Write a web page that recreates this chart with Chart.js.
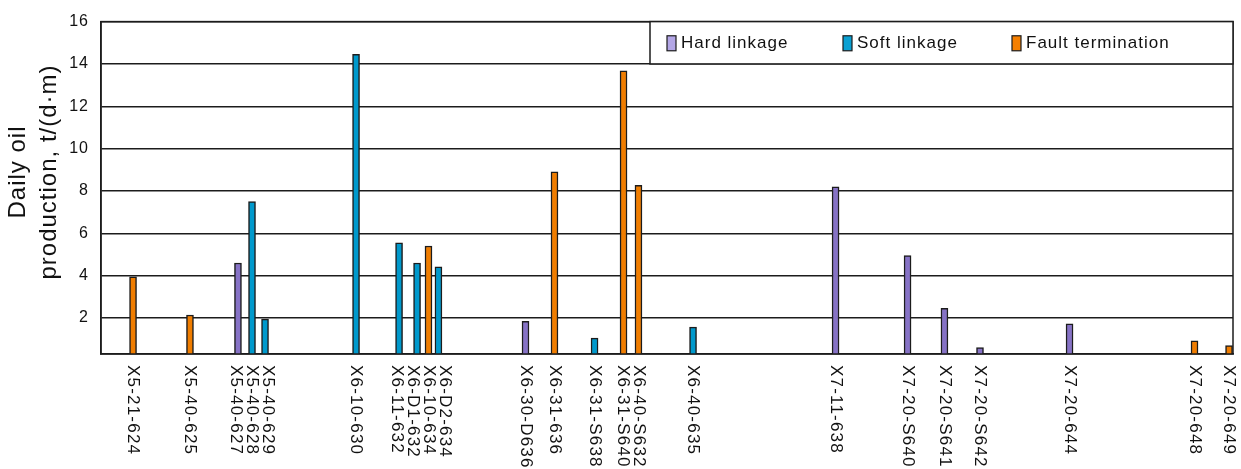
<!DOCTYPE html>
<html>
<head>
<meta charset="utf-8">
<script src="https://cdn.jsdelivr.net/npm/chart.js@4"></script>
<style>
  body { margin: 0; background: #fff; }
  #wrap { width: 1241px; height: 469px; position: relative; }
</style>
</head>
<body>
<div id="wrap"><canvas id="oilChart"></canvas></div>
<script>
// wells along the section, position along the section (0-100), daily oil, linkage type
const wells = ['X5-21-624', 'X5-40-625', 'X5-40-627', 'X5-40-628', 'X5-40-629', 'X6-10-630',
  'X6-11-632', 'X6-D1-632', 'X6-10-634', 'X6-D2-634', 'X6-30-D636', 'X6-31-636', 'X6-31-S638',
  'X6-31-S640', 'X6-40-S632', 'X6-40-635', 'X7-11-638', 'X7-20-S640', 'X7-20-S641', 'X7-20-S642',
  'X7-20-644', 'X7-20-648', 'X7-20-649'];
const wellPos = [2.83, 7.86, 12.1, 13.34, 14.49, 22.53, 26.33, 27.92, 28.93, 29.81, 37.5, 40.06,
  43.6, 46.16, 47.48, 52.3, 64.89, 71.25, 74.51, 77.65, 85.56, 96.6, 99.65];
const production = [3.95, 2.14, 4.6, 7.5, 1.95, 14.45, 5.55, 4.6, 5.4, 4.42, 1.84, 8.9, 1.05,
  13.68, 8.27, 1.57, 8.2, 4.95, 2.46, 0.6, 1.72, 0.92, 0.7];
const wellType = ['F', 'F', 'H', 'S', 'S', 'S', 'S', 'S', 'F', 'S', 'H', 'F', 'S', 'F', 'F', 'S',
  'H', 'H', 'H', 'H', 'H', 'F', 'F'];
const seriesKeys = ['H', 'S', 'F'];
const seriesNames = ['Hard linkage', 'Soft linkage', 'Fault termination'];
const yTicks = [2, 4, 6, 8, 10, 12, 14, 16];
const yTitle = ['Daily oil', 'production, t/(d\u00b7m)'];

const barColors = {H: '#8672C6', S: '#0099CC', F: '#F07D00'};
const swatchColors = {H: '#B3A6E6', S: '#0AA0D2', F: '#F57F00'};
const FONT = "'Liberation Sans', Arial, sans-serif";

function seriesData(key) {
  return wells.map((w, i) => wellType[i] === key ? {x: wellPos[i], y: production[i]} : null)
    .filter(Boolean);
}

// push crowded label positions apart so the vertical texts don't overlap
function spread(pos, gap) {
  for (let it = 0; it < 200; it++) {
    for (let i = 0; i < pos.length - 1; i++) {
      const d = pos[i + 1] - pos[i];
      if (d < gap) {
        pos[i] -= (gap - d) / 2;
        pos[i + 1] += (gap - d) / 2;
      }
    }
  }
  return pos;
}

const customDraw = {
  id: 'customDraw',
  beforeDraw(chart) {
    chart.ctx.letterSpacing = '1px';
  },
  afterDraw(chart) {
    const ctx = chart.ctx;
    const area = chart.chartArea;
    const xs = chart.scales.x;
    const ys = chart.scales.y;
    ctx.save();

    // frame
    ctx.strokeStyle = '#1c1c1c';
    ctx.lineWidth = 1.5;
    ctx.strokeRect(area.left, area.top, area.right - area.left, area.bottom - area.top);

    // legend box in the top band
    const lx = 650, ly = area.top, lb = ys.getPixelForValue(14);
    ctx.fillStyle = '#fff';
    ctx.fillRect(lx, ly, area.right - lx, lb - ly);
    ctx.strokeRect(lx, ly, area.right - lx, lb - ly);
    const itemX = [17, 193, 362];
    ctx.font = '17px ' + FONT;
    ctx.letterSpacing = '1px';
    ctx.textBaseline = 'middle';
    ctx.textAlign = 'left';
    seriesKeys.forEach((k, i) => {
      const sx = lx + itemX[i];
      const cy = (ly + lb) / 2 + 0.5;
      ctx.fillStyle = swatchColors[k];
      ctx.fillRect(sx, cy - 7.5, 9, 15);
      ctx.lineWidth = 1.2;
      ctx.strokeRect(sx, cy - 7.5, 9, 15);
      ctx.fillStyle = '#111';
      ctx.fillText(seriesNames[i], sx + 14, cy);
    });

    // y axis title, two lines reading bottom to top
    ctx.font = '24px ' + FONT;
    ctx.letterSpacing = '1px';
    ctx.fillStyle = '#111';
    yTitle.forEach((line, i) => {
      ctx.save();
      ctx.translate(18 + i * 31, 172);
      ctx.rotate(-Math.PI / 2);
      ctx.textAlign = 'center';
      ctx.textBaseline = 'middle';
      ctx.fillText(line, 0, 0);
      ctx.restore();
    });

    // well names, rotated to read top to bottom
    const px = spread(wells.map((w, i) => xs.getPixelForValue(wellPos[i])), 16);
    ctx.font = '17px ' + FONT;
    ctx.letterSpacing = '1.2px';
    wells.forEach((w, i) => {
      ctx.save();
      ctx.translate(px[i], area.bottom + 11);
      ctx.rotate(Math.PI / 2);
      ctx.textAlign = 'left';
      ctx.textBaseline = 'middle';
      ctx.fillText(w, 0, 0);
      ctx.restore();
    });
    ctx.restore();
  }
};

Chart.defaults.font.family = FONT;
Chart.defaults.color = '#111';

new Chart(document.getElementById('oilChart'), {
  type: 'bar',
  data: {
    datasets: seriesKeys.map((k, i) => ({
      label: seriesNames[i],
      data: seriesData(k),
      backgroundColor: barColors[k],
      borderColor: '#1c1c1c',
      borderWidth: 1.5,
      barThickness: 7,
      grouped: false
    }))
  },
  options: {
    responsive: true,
    maintainAspectRatio: false,
    animation: false,
    layout: {padding: {top: 13, right: 8, left: 0, bottom: 0}},
    plugins: {legend: {display: false}, tooltip: {enabled: false}},
    scales: {
      x: {
        type: 'linear',
        min: 0,
        max: 100,
        offset: false,
        grid: {display: false},
        border: {display: true, color: '#1c1c1c', width: 1.5},
        ticks: {display: false},
        afterFit: (scale) => { scale.height = 115; }
      },
      y: {
        min: 0.3,
        max: 16,
        afterBuildTicks: (scale) => { scale.ticks = yTicks.map(v => ({value: v})); },
        grid: {color: '#1c1c1c', lineWidth: 1.5, drawTicks: false},
        border: {display: true, color: '#1c1c1c', width: 1.5},
        ticks: {padding: 12, font: {size: 16}, color: '#111'},
        afterFit: (scale) => { scale.width = 101; }
      }
    }
  },
  plugins: [customDraw]
});
</script>
</body>
</html>
